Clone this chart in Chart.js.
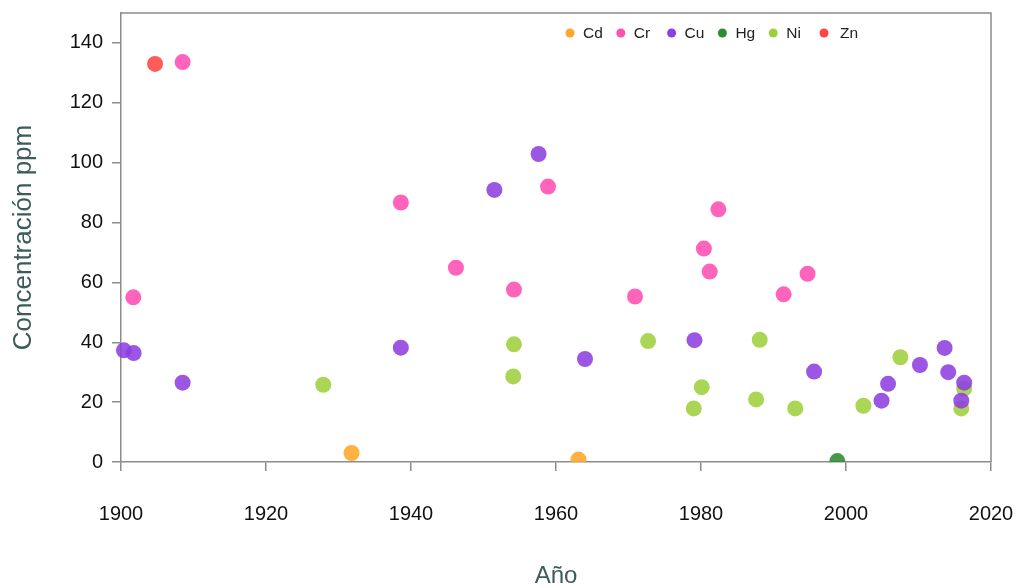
<!DOCTYPE html>
<html>
<head>
<meta charset="utf-8">
<script src="https://cdn.jsdelivr.net/npm/chart.js@4"></script>
<style>
  html, body { margin: 0; padding: 0; background: #fff; }
  #wrap { width: 1016px; height: 588px; }
</style>
</head>
<body>
<div id="wrap"><canvas id="chart" width="1016" height="588"></canvas></div>
<script>
// metal concentrations (ppm) by year
const metals = ['Cd', 'Cr', 'Cu', 'Hg', 'Ni', 'Zn'];
const colors = ['#ffa726', '#ff4fb4', '#8e3fe0', '#2e8b2e', '#9fcf3c', '#ff4444'];

const cdYears = [1931.8, 1963.1];
const cdValues = [3.0, 0.8];

const crYears = [1901.7, 1908.5, 1938.6, 1946.2, 1954.2, 1958.9, 1970.9, 1980.4, 1981.2, 1982.4, 1991.4, 1994.7];
const crValues = [55.0, 133.6, 86.7, 64.9, 57.6, 92.0, 55.3, 71.3, 63.6, 84.4, 56.0, 62.9];

const cuYears = [1900.4, 1901.75, 1908.5, 1938.6, 1951.5, 1957.6, 1964.0, 1979.1, 1995.6, 2004.9, 2005.8, 2010.2, 2013.6, 2014.1, 2015.9, 2016.3];
const cuValues = [37.3, 36.4, 26.5, 38.2, 90.9, 102.9, 34.4, 40.7, 30.2, 20.5, 26.1, 32.4, 38.1, 30.0, 20.5, 26.5];

const hgYears = [1998.8];
const hgValues = [0.3];

const niYears = [1927.9, 1954.2, 1954.1, 1972.7, 1979.0, 1980.1, 1987.6, 1988.1, 1993.0, 2002.4, 2007.5, 2015.9, 2016.3];
const niValues = [25.8, 39.3, 28.6, 40.4, 17.9, 25.0, 20.9, 40.8, 17.9, 18.8, 35.0, 17.9, 24.5];

const znYears = [1904.7];
const znValues = [133.0];

const yearsBy = [cdYears, crYears, cuYears, hgYears, niYears, znYears];
const valuesBy = [cdValues, crValues, cuValues, hgValues, niValues, znValues];

const xTicks = [1900, 1920, 1940, 1960, 1980, 2000, 2020];
const yTicks = [0, 20, 40, 60, 80, 100, 120, 140];

function alpha(hex, a) {
    const n = parseInt(hex.slice(1), 16);
    return `rgba(${n >> 16}, ${(n >> 8) & 255}, ${n & 255}, ${a})`;
}

const datasets = metals.map((m, i) => ({
    label: m,
    data: yearsBy[i].map((x, j) => ({x: x, y: valuesBy[i][j]})),
    backgroundColor: alpha(colors[i], 0.88),
    borderWidth: 0,
    pointRadius: 8,
    pointHoverRadius: 8,
    clip: {left: 10, top: 10, right: 10, bottom: 0},
}));

const axisGray = '#8c8c8c';
const fontFamily = '"Liberation Sans", Arial, sans-serif';

// box round the plot area and the legend inside it
const framePlugin = {
    id: 'frame',
    afterDatasetsDraw(chart) {
        const {ctx, chartArea} = chart;
        ctx.save();
        ctx.strokeStyle = axisGray;
        ctx.lineWidth = 1.5;
        ctx.beginPath();
        ctx.moveTo(chartArea.left, chartArea.top);
        ctx.lineTo(chartArea.right, chartArea.top);
        ctx.lineTo(chartArea.right, chartArea.bottom);
        ctx.stroke();

        ctx.font = '15.5px ' + fontFamily;
        ctx.textBaseline = 'middle';
        const y = chartArea.top + 20;
        metals.forEach((m, i) => {
            const x = chartArea.left + 449 + i * 50.8;
            ctx.beginPath();
            ctx.fillStyle = colors[i];
            ctx.arc(x, y, 4.5, 0, Math.PI * 2);
            ctx.fill();
            ctx.fillStyle = '#222';
            ctx.fillText(m, x + 13 + (m === 'Zn' ? 3 : 0), y + 1);
        });
        ctx.restore();
    }
};

new Chart(document.getElementById('chart'), {
    type: 'scatter',
    data: {datasets: datasets},
    options: {
        responsive: false,
        animation: false,
        layout: {padding: {left: 0, right: 25, top: 13, bottom: 0}},
        scales: {
            x: {
                type: 'linear',
                min: xTicks[0],
                max: xTicks[xTicks.length - 1],
                afterBuildTicks: s => { s.ticks = xTicks.map(v => ({value: v})); },
                afterFit: s => { s.height = 126; s.paddingLeft = 0; s.paddingRight = 0; },
                grid: {drawOnChartArea: false, drawTicks: true, tickLength: 9, color: axisGray, lineWidth: 1.5},
                border: {color: axisGray, width: 1.5},
                ticks: {
                    padding: 31,
                    color: '#111',
                    font: {family: fontFamily, size: 20},
                    callback: v => String(v),
                },
                title: {
                    display: true,
                    text: 'Año',
                    color: '#3d5b5b',
                    padding: {top: 0, bottom: 0},
                    font: {family: fontFamily, size: 24, lineHeight: 1},
                },
            },
            y: {
                min: 0,
                max: 150,
                afterBuildTicks: s => { s.ticks = yTicks.map(v => ({value: v})); },
                afterFit: s => { s.width = 121; s.paddingTop = 0; s.paddingBottom = 0; },
                grid: {drawOnChartArea: false, drawTicks: true, tickLength: 9, color: axisGray, lineWidth: 1.5},
                border: {color: axisGray, width: 1.5},
                ticks: {
                    padding: 9,
                    color: '#111',
                    font: {family: fontFamily, size: 20},
                },
                title: {
                    display: true,
                    text: 'Concentración ppm',
                    color: '#3d5b5b',
                    padding: {top: 8, bottom: 0},
                    font: {family: fontFamily, size: 26},
                },
            },
        },
        plugins: {
            legend: {display: false},
            tooltip: {enabled: false},
        },
    },
    plugins: [framePlugin],
});
</script>
</body>
</html>
